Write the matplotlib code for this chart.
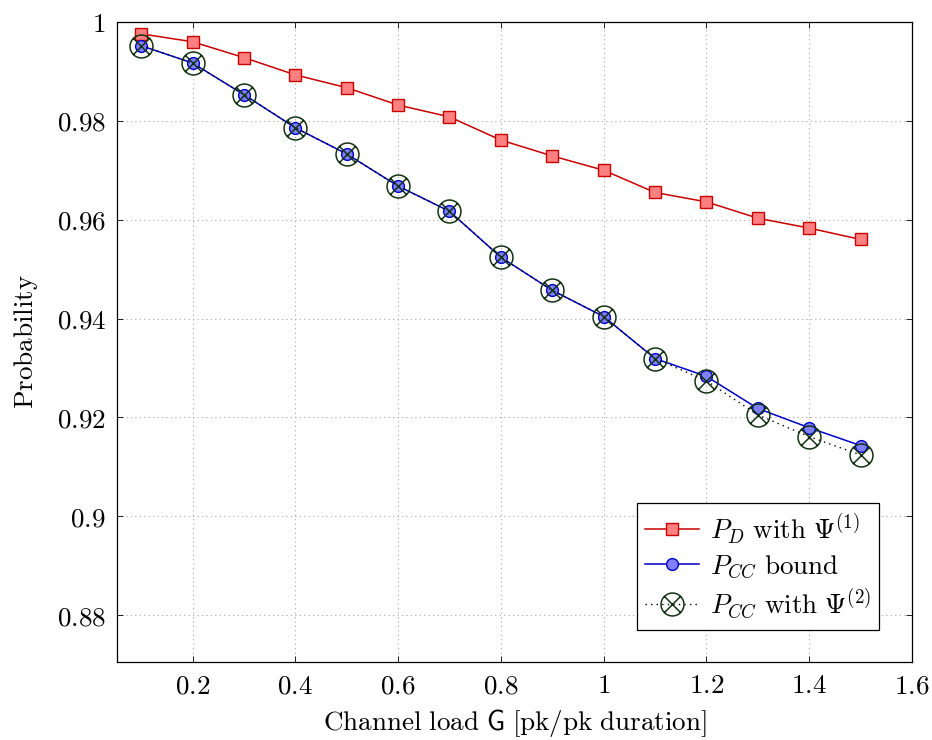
import numpy as np
import matplotlib
matplotlib.use("Agg")
import matplotlib.pyplot as plt
from matplotlib.path import Path
from matplotlib.ticker import FuncFormatter, MultipleLocator

plt.rcParams['mathtext.fontset'] = 'cm'

# channel load values
load = [0.1, 0.2, 0.3, 0.4, 0.5, 0.6, 0.7, 0.8, 0.9, 1.0, 1.1, 1.2, 1.3, 1.4, 1.5]

# P_D with Psi(1)
p_d = [0.9976, 0.9960, 0.9928, 0.9893, 0.9867, 0.9832, 0.9808, 0.9761,
       0.9729, 0.9700, 0.9655, 0.9636, 0.9603, 0.9583, 0.9560]

# P_CC bound
p_cc_bound = [0.9952, 0.9917, 0.9853, 0.9786, 0.9733, 0.9668, 0.9617, 0.9524,
              0.9457, 0.9404, 0.9319, 0.9283, 0.9218, 0.9179, 0.9143]

# P_CC with Psi(2)
p_cc_psi2 = [0.9952, 0.9917, 0.9853, 0.9786, 0.9733, 0.9668, 0.9617, 0.9524,
             0.9457, 0.9404, 0.9319, 0.9274, 0.9205, 0.9161, 0.9124]

# crossed circle marker (circle with an x inside)
circ = Path.unit_circle()
d = np.sqrt(0.5)
cross = Path([(-d, -d), (d, d), (-d, d), (d, -d)],
             [Path.MOVETO, Path.LINETO, Path.MOVETO, Path.LINETO])
otimes = Path.make_compound_path(circ, cross)

fig = plt.figure(figsize=(9.32, 7.4), dpi=100)
ax = fig.add_axes([0.1255, 0.1054, 0.853, 0.8649])

ax.plot(load, p_d, color='#c80000', lw=1.1, marker='s', ms=8.5,
        markerfacecolor='#ff8080', markeredgecolor='#c80000', mew=1.0,
        label=r'$P_D\ \mathrm{with}\ \Psi^{(1)}$', zorder=3)
ax.plot(load, p_cc_bound, color='#0000c8', lw=1.1, marker='o', ms=8.5,
        markerfacecolor='#8080ff', markeredgecolor='#0000c8', mew=1.0,
        label=r'$P_{CC}\ \mathrm{bound}$', zorder=3)
ax.plot(load, p_cc_psi2, color='black', lw=1.0, ls=(0, (1, 3)), marker=otimes,
        ms=16.5, markerfacecolor='none', markeredgecolor='#123312', mew=1.1,
        label=r'$P_{CC}\ \mathrm{with}\ \Psi^{(2)}$', zorder=4)

ax.set_xlim(0.053, 1.6)
ax.set_ylim(0.8705, 1.0)
ax.xaxis.set_major_locator(MultipleLocator(0.2))
ax.yaxis.set_major_locator(MultipleLocator(0.02))

fmt = FuncFormatter(lambda v, p: r'$%g$' % round(v, 3))
ax.xaxis.set_major_formatter(fmt)
ax.yaxis.set_major_formatter(fmt)
ax.set_xticks([0.2, 0.4, 0.6, 0.8, 1.0, 1.2, 1.4, 1.6])

ax.tick_params(direction='in', length=4, width=0.6, top=True, right=True,
               labelsize=19.5, pad=8)
ax.grid(True, color='#a8a8a8', ls=(0, (1, 3)), lw=0.8)
for s in ax.spines.values():
    s.set_linewidth(0.9)

ax.set_xlabel(r'$\mathrm{Channel\ load}\ \mathsf{G}\ \mathrm{[pk/pk\ duration]}$',
              fontsize=19.5, labelpad=6)
ax.set_ylabel(r'$\mathrm{Probability}$', fontsize=19.5, labelpad=12)

leg = ax.legend(loc='lower right', fontsize=19.5, fancybox=False,
                edgecolor='black', framealpha=1, borderaxespad=1.2,
                handlelength=2.0, labelspacing=0.25, borderpad=0.3,
                handletextpad=0.4)
leg.get_frame().set_linewidth(0.9)

fig.savefig('out.png', dpi=100)
